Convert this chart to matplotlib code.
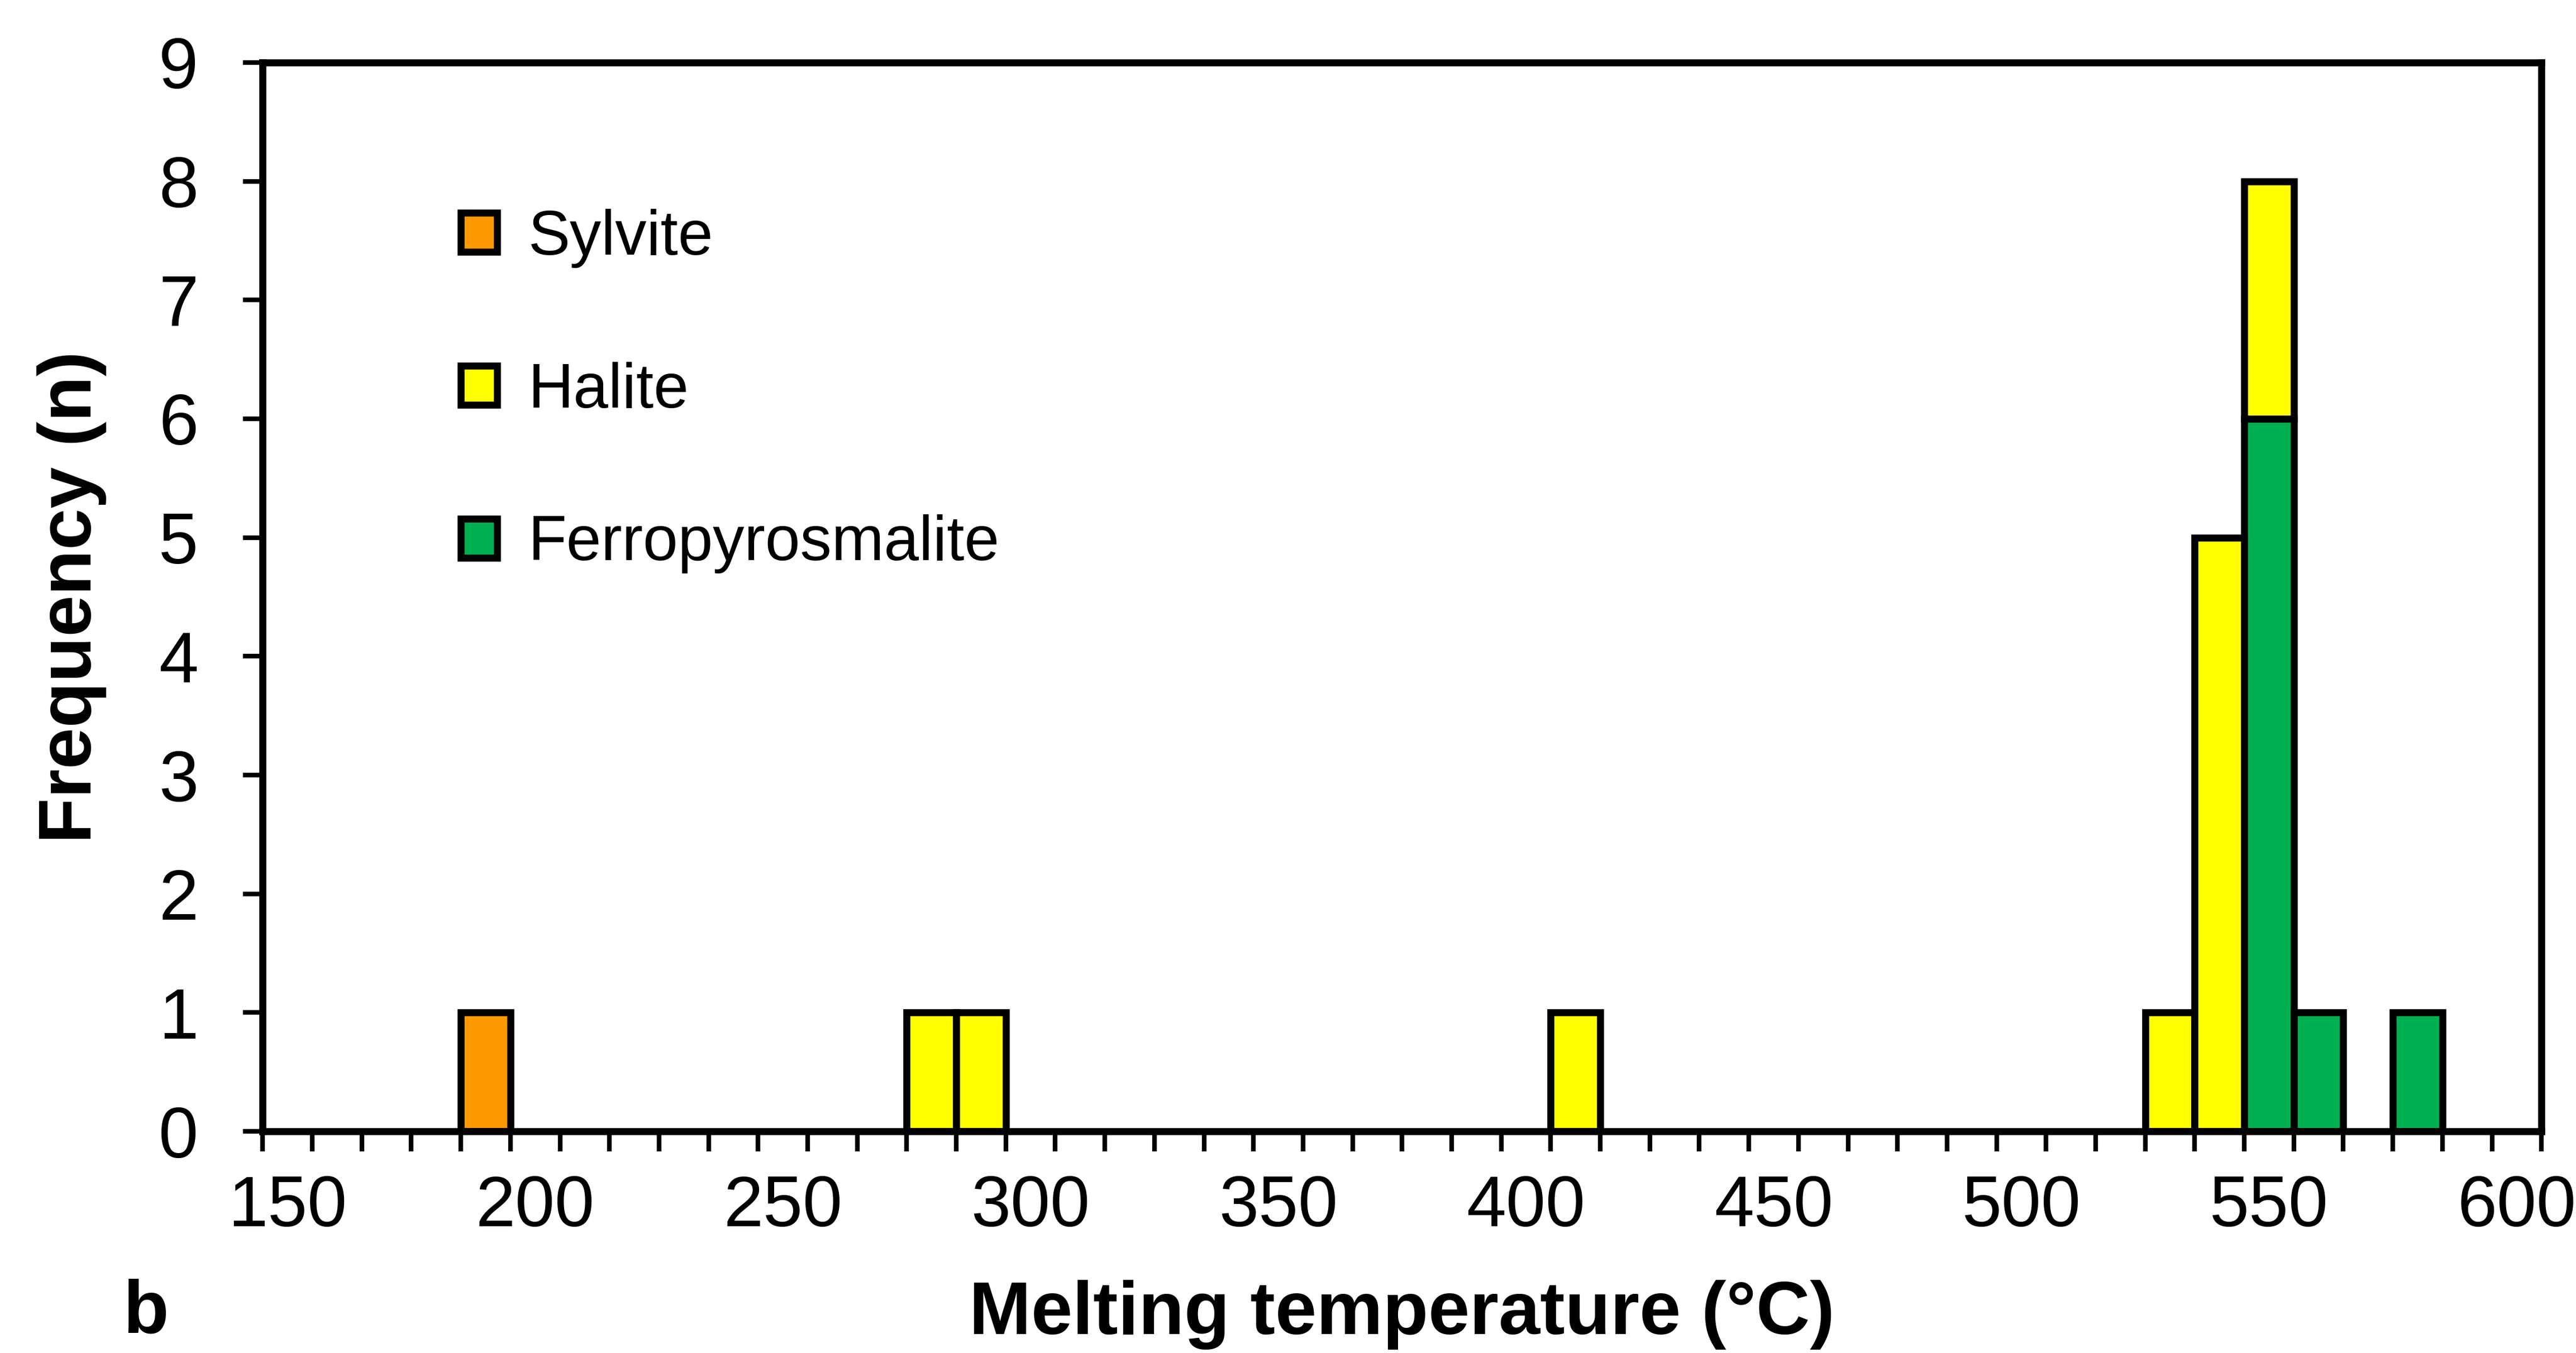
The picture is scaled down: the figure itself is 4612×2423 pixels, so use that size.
import numpy as np
import matplotlib
matplotlib.use("Agg")
import matplotlib.pyplot as plt
from matplotlib.patches import Patch

plt.rcParams['font.family'] = ['Liberation Sans', 'DejaVu Sans']

# === Datos (clases de 10 °C, 150-600) ===
categorias = np.arange(150, 601, 10)

sylvite_t = [190]
sylvite_n = [1]

halite_t = [280, 290, 410, 530, 540, 550]
halite_n = [1, 1, 1, 1, 5, 2]

ferro_t = [550, 560, 580]
ferro_n = [6, 1, 1]

etiquetas = ["Sylvite", "Halite", "Ferropyrosmalite"]
colores = ["#FF9900", "#FFFF00", "#00B050"]

# === Figura ===
fig = plt.figure(figsize=(46.12, 24.23), dpi=100)
ax = fig.add_axes([0.102, 0.1638, 0.8846, 0.79])

lw_barra = 9
fondo = {}
series = [(ferro_t, ferro_n, colores[2]),
          (halite_t, halite_n, colores[1]),
          (sylvite_t, sylvite_n, colores[0])]
for temps, cuentas, col in series:
    base = [fondo.get(t, 0) for t in temps]
    ax.bar(temps, cuentas, width=10, bottom=base, color=col,
           edgecolor="black", linewidth=lw_barra, zorder=2)
    for t, c in zip(temps, cuentas):
        fondo[t] = fondo.get(t, 0) + c

ax.set_xlim(145, 605)
ax.set_ylim(0, 9)

ax.set_xticks(categorias[::5])
ax.set_xticks(np.arange(145, 606, 10), minor=True)
ax.set_yticks(np.arange(0, 10, 1))
ax.tick_params(axis="x", which="major", length=0, labelsize=92, pad=55)
ax.tick_params(axis="x", which="minor", length=26, width=6, direction="out")
ax.tick_params(axis="y", which="major", length=25, width=6, labelsize=92, pad=58)

for s in ax.spines.values():
    s.set_linewidth(9)
    s.set_zorder(5)

ax.set_xlabel("Melting temperature (°C)", fontsize=96, fontweight="bold")
ax.xaxis.set_label_coords(0.5, -0.139)
ax.set_ylabel("Frequency (n)", fontsize=96, fontweight="bold")
ax.yaxis.set_label_coords(-0.0686, 0.5)

fig.text(0.0478, 0.015, "b", fontsize=96, fontweight="bold", va="baseline")

# leyenda
manejadores = [Patch(facecolor=c, edgecolor="black", linewidth=9) for c in colores]
ax.legend(manejadores, etiquetas, loc="upper left", bbox_to_anchor=(0.062, 0.916),
          frameon=False, fontsize=81, handlelength=0.58, handleheight=0.58,
          handletextpad=0.5, labelspacing=1.49)

fig.savefig("out.png", dpi=100, facecolor="white")
